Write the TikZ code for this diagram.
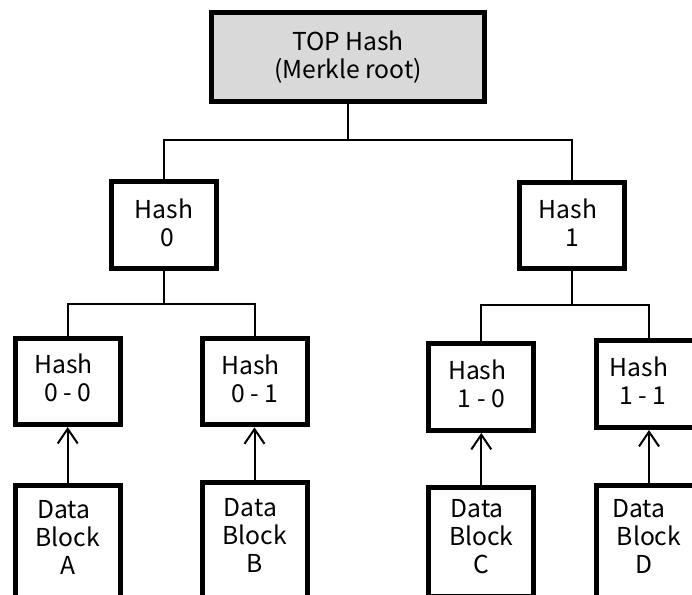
\documentclass[tikz,border=0pt]{standalone}
\usepackage{fontspec}
\setmainfont{Noto Sans CJK KR}
\usetikzlibrary{arrows.meta}
\definecolor{topgray}{HTML}{D9D9D9}
\newcommand{\lsh}[2][6pt]{#2\hspace*{#1}}
\newcommand{\dpt}[1]{\rule[-#1]{0pt}{#1}}
\begin{document}
\begin{tikzpicture}[x=0.75pt,y=-0.75pt,
  box/.style={draw=black, line width=3.75pt, rectangle, align=center, inner sep=0pt,
    font=\fontsize{18.5}{21}\selectfont, text=black},
  hashbox/.style={box, minimum width=78.75pt, minimum height=64.9pt},
  topbox/.style={box, fill=topgray, minimum width=204.75pt, minimum height=66.4pt},
  databox/.style={box, minimum width=78.75pt},
  conn/.style={draw=black, line width=1.5pt},
  uparrow/.style={conn, -{Straight Barb[length=11pt,width=15pt]}}]
\useasboundingbox (0,0) rectangle (692,594);
\fill[white] (0,0) rectangle (692,594);
\clip (0,0) rectangle (692,594);

% nodes
\node[topbox] (top) at (348,57.2) {TOP Hash\\(Merkle root)};
\node[hashbox] (h0) at (163.8,225) {Hash\\\hspace*{6pt}0\dpt{4pt}};
\node[hashbox] (h1) at (572,225.5) {\lsh{Hash}\\1\dpt{4pt}};
\node[hashbox] (h00) at (67.7,381.3) {\lsh{Hash}\\0 - 0\dpt{5pt}};
\node[hashbox] (h01) at (254.5,381.6) {\lsh{Hash}\\0 - 1\dpt{5pt}};
\node[hashbox] (h10) at (481.3,387.2) {\lsh{Hash}\\1 - 0\dpt{6pt}};
\node[hashbox] (h11) at (649,384.2) {\lsh[15pt]{Hash}\\\lsh[9pt]{1 - 1}\dpt{5pt}};

\node[databox, minimum height=83.85pt] (dA) at (67.7,541.1) {\lsh{Data}\\\lsh{Block}\\A\dpt{6pt}};
\node[databox, minimum height=85.9pt] (dB) at (254.5,539.75) {\lsh{Data}\\\lsh{Block}\\B\dpt{7pt}};
\node[databox, minimum height=82.1pt] (dC) at (481.3,542.25) {\lsh{Data}\\\lsh{Block}\\C\dpt{9pt}};
\node[databox, minimum height=83.85pt] (dD) at (649,541.1) {\lsh[15pt]{Data}\\\lsh[15pt]{Block}\\\lsh[7.5pt]{D}\dpt{6.6pt}};

% junction levels
\coordinate (ya) at (0,140);
\coordinate (yb) at (0,304);
\coordinate (yc) at (0,305);
\coordinate (j0) at (top.south |- ya);
\coordinate (j1) at (h0.south |- yb);
\coordinate (j2) at (h1.south |- yc);

% connectors
\draw[conn] (top.south) -- (j0);
\draw[conn] (h0.north) |- (j0) -| (h1.north);
\draw[conn] (h0.south) -- (j1);
\draw[conn] (h00.north) |- (j1) -| (h01.north);
\draw[conn] (h1.south) -- (j2);
\draw[conn] (h10.north) |- (j2) -| (h11.north);

% arrows
\draw[uparrow] (dA.north) -- (h00.south);
\draw[uparrow] (dB.north) -- (h01.south);
\draw[uparrow] (dC.north) -- (h10.south);
\draw[uparrow] (dD.north) -- (h11.south);
\end{tikzpicture}
\end{document}
